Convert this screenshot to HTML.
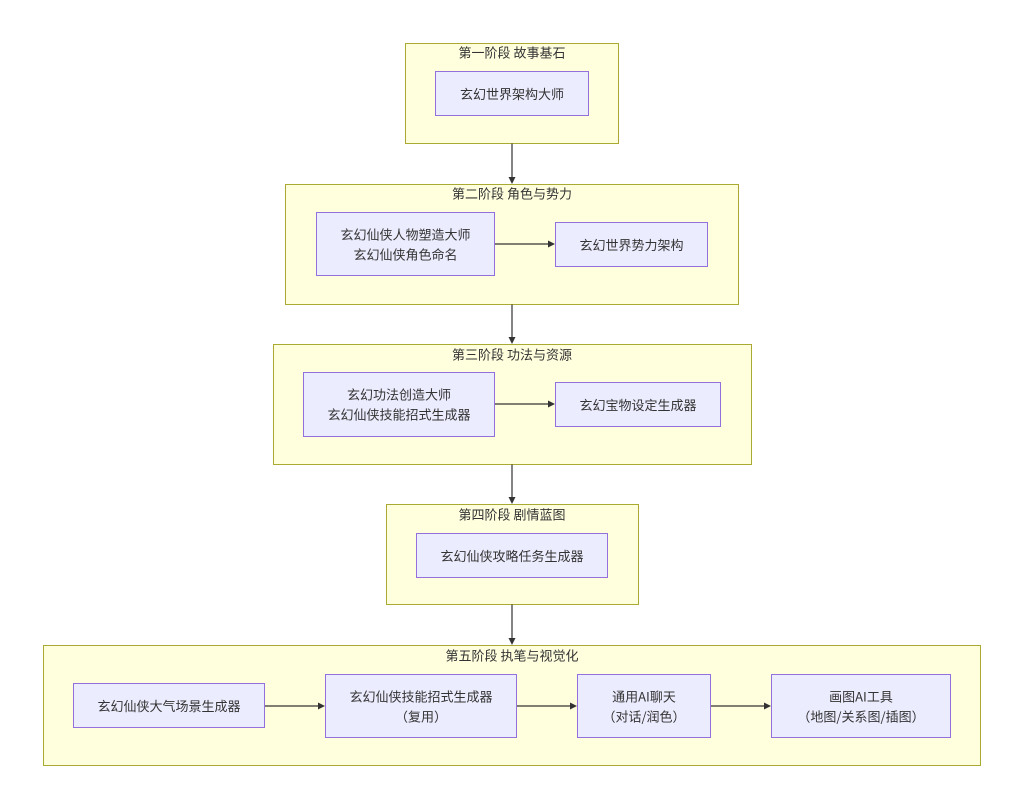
<!DOCTYPE html>
<html>
<head>
<meta charset="utf-8">
<style>
  html, body { margin: 0; padding: 0; background: #ffffff; }
  svg { display: block; }
  text { font-family: "Noto Sans CJK SC", "Liberation Sans", sans-serif; font-size: 13px; fill: #333333; }
</style>
</head>
<body>
<svg width="1024" height="809" viewBox="0 0 1024 809" xmlns="http://www.w3.org/2000/svg">
  <rect x="0" y="0" width="1024" height="809" fill="#ffffff"/>

  <!-- Clusters -->
  <g fill="#ffffde" stroke="#aaaa33" stroke-width="1">
    <rect x="405.5" y="43.5" width="213" height="100"/>
    <rect x="285.5" y="184.5" width="453" height="120"/>
    <rect x="273.5" y="344.5" width="478" height="120"/>
    <rect x="386.5" y="504.5" width="252" height="100"/>
    <rect x="43.5" y="645.5" width="937" height="120"/>
  </g>

  <!-- Edges -->
  <g stroke="#333333" stroke-width="1.2" fill="none">
    <line x1="512" y1="143.5" x2="512" y2="178"/>
    <line x1="512" y1="304.5" x2="512" y2="338"/>
    <line x1="512" y1="464.5" x2="512" y2="498"/>
    <line x1="512" y1="604.5" x2="512" y2="639"/>
    <line x1="494.5" y1="244" x2="549" y2="244"/>
    <line x1="494.5" y1="404" x2="549" y2="404"/>
    <line x1="265" y1="706" x2="319" y2="706"/>
    <line x1="517" y1="706" x2="571" y2="706"/>
    <line x1="711" y1="706" x2="765" y2="706"/>
  </g>
  <g fill="#333333">
    <polygon points="512,184 508.5,177 515.5,177"/>
    <polygon points="512,344 508.5,337 515.5,337"/>
    <polygon points="512,504 508.5,497 515.5,497"/>
    <polygon points="512,645 508.5,638 515.5,638"/>
    <polygon points="555,244 548,240.5 548,247.5"/>
    <polygon points="555,404 548,400.5 548,407.5"/>
    <polygon points="325,706 318,702.5 318,709.5"/>
    <polygon points="577,706 570,702.5 570,709.5"/>
    <polygon points="771,706 764,702.5 764,709.5"/>
  </g>

  <!-- Nodes -->
  <g fill="#ECECFF" stroke="#9370DB" stroke-width="1">
    <rect x="435.5" y="71.5" width="153" height="44"/>
    <rect x="316.5" y="212.5" width="178" height="63"/>
    <rect x="555.5" y="222.5" width="152" height="44"/>
    <rect x="303.5" y="372.5" width="191" height="64"/>
    <rect x="555.5" y="382.5" width="165" height="44"/>
    <rect x="416.5" y="533.5" width="191" height="44"/>
    <rect x="73.5" y="683.5" width="191" height="44"/>
    <rect x="325.5" y="674.5" width="191" height="63"/>
    <rect x="577.5" y="674.5" width="133" height="63"/>
    <rect x="771.5" y="674.5" width="179" height="63"/>
  </g>

  <!-- Cluster titles -->
  <g text-anchor="middle" dominant-baseline="central">
    <text x="512" y="52">第一阶段 故事基石</text>
    <text x="512" y="193">第二阶段 角色与势力</text>
    <text x="512" y="354">第三阶段 功法与资源</text>
    <text x="512" y="514">第四阶段 剧情蓝图</text>
    <text x="512" y="655">第五阶段 执笔与视觉化</text>
  </g>

  <!-- Node labels -->
  <g text-anchor="middle" dominant-baseline="central">
    <text x="512" y="93.5">玄幻世界架构大师</text>

    <text x="405.5" y="234">玄幻仙侠人物塑造大师</text>
    <text x="405.5" y="254">玄幻仙侠角色命名</text>
    <text x="631.5" y="244.5">玄幻世界势力架构</text>

    <text x="399" y="394">玄幻功法创造大师</text>
    <text x="399" y="414">玄幻仙侠技能招式生成器</text>
    <text x="638" y="404.5">玄幻宝物设定生成器</text>

    <text x="512" y="555.5">玄幻仙侠攻略任务生成器</text>

    <text x="169" y="705.5">玄幻仙侠大气场景生成器</text>
    <text x="421" y="696">玄幻仙侠技能招式生成器</text>
    <text x="421" y="716">（复用）</text>
    <text x="644" y="696">通用AI聊天</text>
    <text x="644" y="716">（对话/润色）</text>
    <text x="861" y="696">画图AI工具</text>
    <text x="861" y="716">（地图/关系图/插图）</text>
  </g>
</svg>
</body>
</html>
